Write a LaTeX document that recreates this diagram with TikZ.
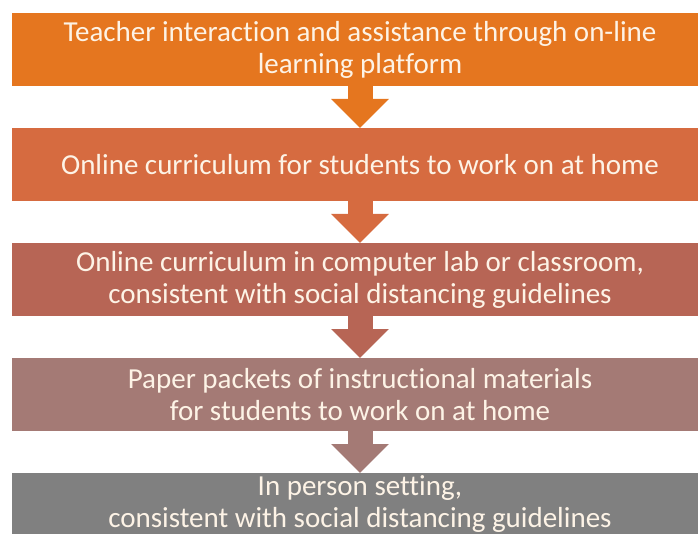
\documentclass[tikz,border=0pt]{standalone}
\usepackage{fontspec}
\setmainfont{Carlito}[Ligatures=CommonOff]
\usetikzlibrary{positioning,arrows.meta}
\definecolor{stageA}{HTML}{E5761F}
\definecolor{stageB}{HTML}{D66B40}
\definecolor{stageC}{HTML}{B76555}
\definecolor{stageD}{HTML}{A47A75}
\definecolor{stageE}{HTML}{808080}
\definecolor{stagetext}{HTML}{FDF3E6}
\tikzset{
  stage/.style={fill=#1, text=stagetext, minimum width=696pt, minimum height=73pt,
    inner sep=0pt, outer sep=0pt, align=center, font=\fontsize{29}{32}\selectfont},
  flow/.style={draw=#1, line width=25pt, -{Triangle[width=56pt,length=29pt]}}
}

\begin{document}
\begin{tikzpicture}[node distance=42pt]
  \clip (0,0) rectangle (698pt,-534pt);
  \useasboundingbox (0,0) rectangle (698pt,-534pt);

  \node[stage=stageA] (teacher) at (360pt,-49.5pt)
    {Teacher interaction and assistance through on-line\\learning platform};
  \node[stage=stageB, below=of teacher] (home)
    {Online curriculum for students to work on at home};
  \node[stage=stageC, below=of home] (lab)
    {Online curriculum in computer lab or classroom,\\consistent with social distancing guidelines};
  \node[stage=stageD, below=of lab] (paper)
    {Paper packets of instructional materials\\for students to work on at home};
  \node[stage=stageE, minimum height=62pt, below=of paper] (person)
    {In person setting,\\consistent with social distancing guidelines};

  \draw[flow=stageA] (teacher) -- (home);
  \draw[flow=stageB] (home) -- (lab);
  \draw[flow=stageC] (lab) -- (paper);
  \draw[flow=stageD] (paper) -- (person);
\end{tikzpicture}
\end{document}
